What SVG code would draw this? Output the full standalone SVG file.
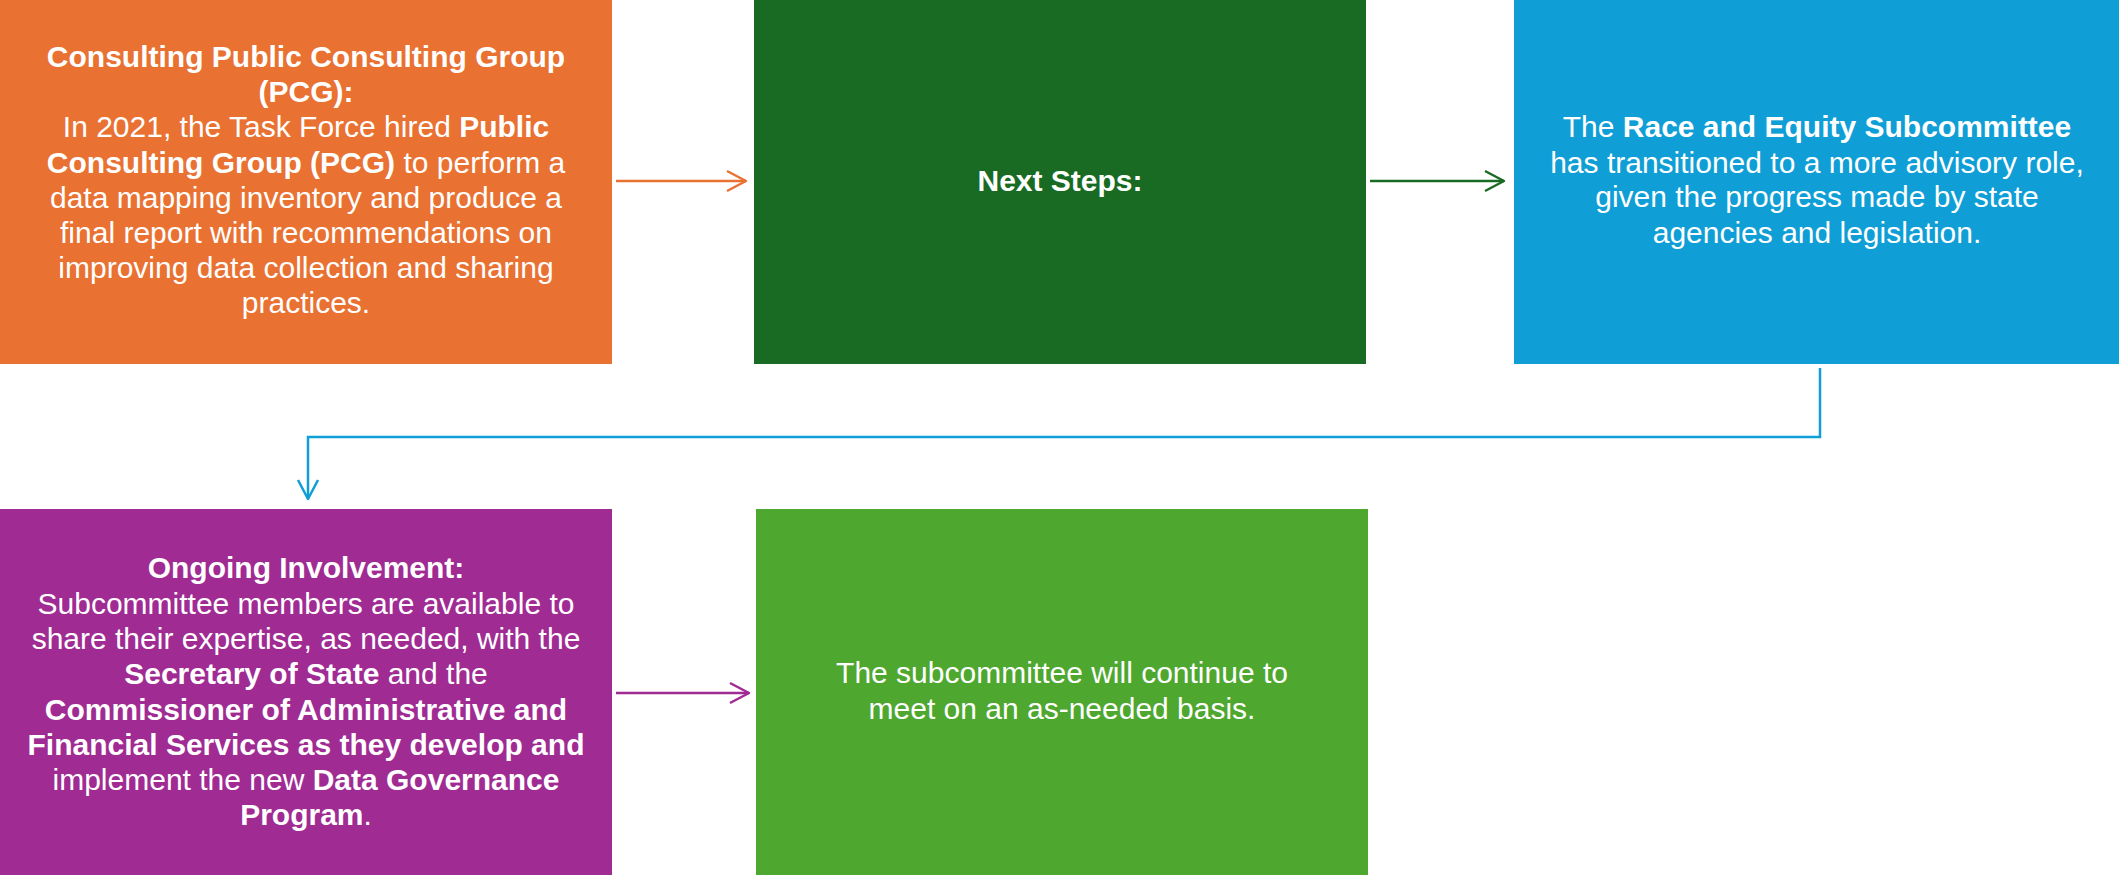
<svg xmlns="http://www.w3.org/2000/svg" width="2119" height="875" viewBox="0 0 2119 875">
<style>
text{font-family:"Liberation Sans",Arial,sans-serif;font-size:30px;fill:#fff;text-anchor:middle}
.b{font-weight:bold}
.c{fill:none;stroke-width:2.5}
</style>
<defs>
<marker id="mo" markerUnits="userSpaceOnUse" viewBox="-2 -2 24 24" markerWidth="24" markerHeight="24" refX="19" refY="10" orient="auto"><path d="M0,0 L19,10 L0,20" fill="none" stroke="#E97132" stroke-width="2.5" stroke-linejoin="round"/></marker>
<marker id="mg" markerUnits="userSpaceOnUse" viewBox="-2 -2 24 24" markerWidth="24" markerHeight="24" refX="19" refY="10" orient="auto"><path d="M0,0 L19,10 L0,20" fill="none" stroke="#196B24" stroke-width="2.5" stroke-linejoin="round"/></marker>
<marker id="mb" markerUnits="userSpaceOnUse" viewBox="-2 -2 24 24" markerWidth="24" markerHeight="24" refX="19" refY="10" orient="auto"><path d="M0,0 L19,10 L0,20" fill="none" stroke="#0F9ED5" stroke-width="2.5" stroke-linejoin="round"/></marker>
<marker id="mp" markerUnits="userSpaceOnUse" viewBox="-2 -2 24 24" markerWidth="24" markerHeight="24" refX="19" refY="10" orient="auto"><path d="M0,0 L19,10 L0,20" fill="none" stroke="#A02B93" stroke-width="2.5" stroke-linejoin="round"/></marker>
</defs>
<rect width="2119" height="875" fill="#fff"/>
<g id="connectors">
<path class="c" stroke="#E97132" d="M616,181 H746" marker-end="url(#mo)"/>
<path class="c" stroke="#196B24" d="M1370,181 H1504" marker-end="url(#mg)"/>
<path class="c" stroke="#0F9ED5" d="M1820,368 V437 H308 V499" marker-end="url(#mb)"/>
<path class="c" stroke="#A02B93" d="M616,693 H749" marker-end="url(#mp)"/>
</g>
<g id="node-pcg">
<rect x="0" y="0" width="612" height="364" fill="#E97132"/>
<text x="306" y="67" class="b">Consulting Public Consulting Group</text>
<text x="306" y="102" class="b">(PCG):</text>
<text x="306" y="137">In 2021, the Task Force hired <tspan class="b">Public</tspan></text>
<text x="306" y="173"><tspan class="b">Consulting Group (PCG)</tspan> to perform a</text>
<text x="306" y="208">data mapping inventory and produce a</text>
<text x="306" y="243">final report with recommendations on</text>
<text x="306" y="278">improving data collection and sharing</text>
<text x="306" y="313">practices.</text>
</g>
<g id="node-next">
<rect x="754" y="0" width="612" height="364" fill="#196B24"/>
<text x="1060" y="191" class="b">Next Steps:</text>
</g>
<g id="node-race">
<rect x="1514" y="0" width="605" height="364" fill="#0F9ED5"/>
<text x="1817" y="137">The <tspan class="b">Race and Equity Subcommittee</tspan></text>
<text x="1817" y="173">has transitioned to a more advisory role,</text>
<text x="1817" y="207">given the progress made by state</text>
<text x="1817" y="243">agencies and legislation.</text>
</g>
<g id="node-ongoing">
<rect x="0" y="509" width="612" height="366" fill="#A02B93"/>
<text x="306" y="578" class="b">Ongoing Involvement:</text>
<text x="306" y="614">Subcommittee members are available to</text>
<text x="306" y="649">share their expertise, as needed, with the</text>
<text x="306" y="684"><tspan class="b">Secretary of State</tspan> and the</text>
<text x="306" y="720" class="b">Commissioner of Administrative and</text>
<text x="306" y="755" class="b">Financial Services as they develop and</text>
<text x="306" y="790">implement the new <tspan class="b">Data Governance</tspan></text>
<text x="306" y="825"><tspan class="b">Program</tspan>.</text>
</g>
<g id="node-continue">
<rect x="756" y="509" width="612" height="366" fill="#4EA72E"/>
<text x="1062" y="683">The subcommittee will continue to</text>
<text x="1062" y="719">meet on an as-needed basis.</text>
</g>
</svg>
